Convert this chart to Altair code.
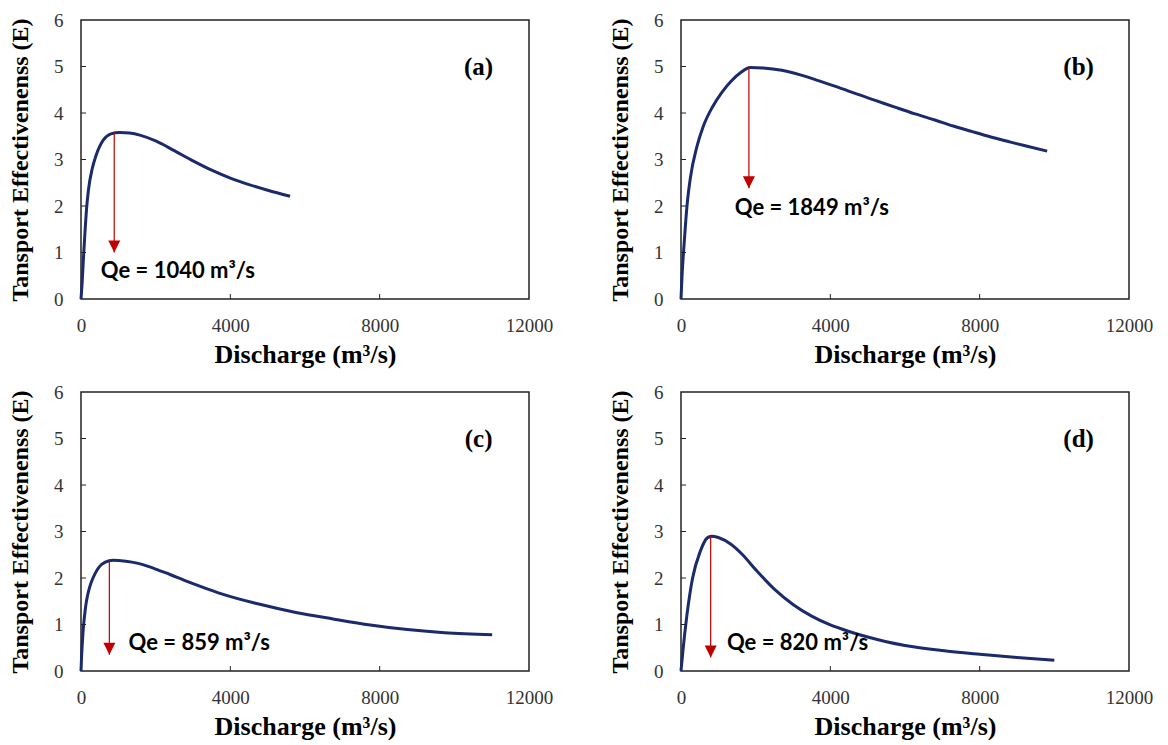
import altair as alt
import pandas as pd

# ---------------- data ----------------
Q_A = [0, 30, 60, 100, 150, 200, 300, 400, 500, 600, 800, 1040, 1300, 1600, 2000, 2500, 3000, 3500, 4000, 4500, 5000, 5600]
E_A = [0, 0.35, 0.8, 1.35, 1.95, 2.35, 2.8, 3.08, 3.28, 3.42, 3.55, 3.58, 3.57, 3.52, 3.40, 3.19, 2.97, 2.77, 2.60, 2.46, 2.34, 2.21]

Q_B = [0, 25, 67, 120, 168, 250, 424, 600, 835, 1100, 1347, 1600, 1849, 2200, 2700, 3195, 3700, 4219, 4700, 5245, 5750, 6271, 6800, 7296, 7800, 8322, 8800, 9300, 9808]
E_B = [0, 0.45, 1.0, 1.6, 2.06, 2.6, 3.27, 3.72, 4.12, 4.45, 4.69, 4.87, 4.98, 4.97, 4.92, 4.82, 4.69, 4.55, 4.41, 4.26, 4.12, 3.98, 3.85, 3.72, 3.60, 3.48, 3.38, 3.28, 3.18]

Q_C = [0, 15, 32, 60, 90, 130, 180, 230, 280, 380, 478, 650, 859, 1200, 1500, 1800, 2100, 2400, 2770, 3200, 3765, 4761, 5757, 6752, 7748, 8743, 9740, 11014]
E_C = [0, 0.3, 0.55, 0.9, 1.15, 1.42, 1.64, 1.80, 1.92, 2.10, 2.23, 2.34, 2.38, 2.36, 2.32, 2.25, 2.16, 2.07, 1.95, 1.82, 1.66, 1.44, 1.26, 1.12, 0.99, 0.89, 0.82, 0.78]

Q_D = [0, 53, 155, 308, 515, 700, 820, 1000, 1347, 1650, 2000, 2500, 3000, 3500, 4000, 4500, 5000, 5500, 6000, 7000, 8000, 9000, 10000]
E_D = [0, 0.45, 1.18, 1.99, 2.57, 2.86, 2.90, 2.87, 2.72, 2.50, 2.18, 1.76, 1.43, 1.18, 0.99, 0.85, 0.73, 0.63, 0.55, 0.44, 0.36, 0.29, 0.23]

Q_SERIES = [Q_A, Q_B, Q_C, Q_D]
E_SERIES = [E_A, E_B, E_C, E_D]

PANEL_LABELS = ["(a)", "(b)", "(c)", "(d)"]
QE_TEXTS = ["Qe = 1040 m\u00b3/s", "Qe = 1849 m\u00b3/s", "Qe = 859 m\u00b3/s", "Qe = 820 m\u00b3/s"]
ARROW_Q = [890, 1819, 760, 795]
ARROW_TOP = [3.58, 4.98, 2.38, 2.90]
ARROW_TIP = [1.0, 2.38, 0.35, 0.29]
TEXT_Q = [530, 1440, 1275, 1230]
TEXT_E = [0.6, 1.95, 0.6, 0.6]
LABEL_Q = [10650, 10650, 10650, 10650]
LABEL_E = [5.0, 5.0, 5.0, 5.0]

X_TICKS = [0, 4000, 8000, 12000]
Y_TICKS = [0, 1, 2, 3, 4, 5, 6]
X_INNER = [4000, 8000]
Y_INNER = [1, 2, 3, 4, 5]

NAVY = "#1b2a6b"
RED = "#c00000"
W, H = 448, 279

XS = alt.Scale(domain=[0, 12000], nice=False, zero=False)
YS = alt.Scale(domain=[0, 6], nice=False, zero=False)
XA = alt.Axis(values=X_TICKS, format="d", title="Discharge (m\u00b3/s)", grid=False, ticks=False, domain=False,
              labelFlush=False, labelOverlap=False, labelPadding=17, titlePadding=6, titleFontSize=26)
YA = alt.Axis(values=Y_TICKS, format="d", title="Tansport Effectivenenss (E)", grid=False, ticks=False, domain=False,
              labelFlush=False, labelOverlap=False, labelPadding=18, titlePadding=21, titleFontSize=24)


def X(f):
    return alt.X(f, type="quantitative", scale=XS, axis=XA)


def Y(f):
    return alt.Y(f, type="quantitative", scale=YS, axis=YA)


def panel(i):
    df = pd.DataFrame({"Q": Q_SERIES[i], "E": E_SERIES[i]})
    line = alt.Chart(df).mark_line(color=NAVY, strokeWidth=3, interpolate="monotone").encode(x=X("Q"), y=Y("E"))
    ann = pd.DataFrame({"Q": [ARROW_Q[i]], "E": [ARROW_TOP[i]], "E2": [ARROW_TIP[i]]})
    rule = alt.Chart(ann).mark_rule(color=RED, strokeWidth=1.2).encode(x=X("Q"), y=Y("E"), y2=alt.Y2("E2"))
    head = alt.Chart(ann).mark_point(shape="M-1,-1L1,-1L0,1Z", filled=True, size=144, color=RED,
                                     opacity=1, yOffset=-6).encode(x=X("Q"), y=Y("E2"))
    txt = pd.DataFrame({"Q": [TEXT_Q[i]], "E": [TEXT_E[i]], "t": [QE_TEXTS[i]]})
    qe = alt.Chart(txt).mark_text(align="left", baseline="middle", font="Lato", fontWeight="bold",
                                  fontSize=22, color="black").encode(x=X("Q"), y=Y("E"), text="t:N")
    lab = pd.DataFrame({"Q": [LABEL_Q[i]], "E": [LABEL_E[i]], "t": [PANEL_LABELS[i]]})
    lbl = alt.Chart(lab).mark_text(align="center", baseline="middle", font="Liberation Serif",
                                   fontWeight="bold", fontSize=25, color="black").encode(
        x=X("Q"), y=Y("E"), text="t:N")
    xt = alt.Chart(pd.DataFrame({"Q": X_INNER})).mark_rule(color="#222", strokeWidth=1).encode(
        x=X("Q"), y=alt.value(H), y2=alt.value(H - 5))
    yt = alt.Chart(pd.DataFrame({"E": Y_INNER})).mark_rule(color="#222", strokeWidth=1).encode(
        y=Y("E"), x=alt.value(0), x2=alt.value(5))
    return alt.layer(line, xt, yt, rule, head, qe, lbl).properties(width=W, height=H)


top = alt.hconcat(panel(0), panel(1), spacing=53)
bottom = alt.hconcat(panel(2), panel(3), spacing=53)
chart = alt.vconcat(top, bottom, spacing=14).properties(
    padding={"left": 7, "top": 10, "right": 5, "bottom": 0}, background="white"
).configure_view(stroke="#222", strokeWidth=1.5).configure_axis(
    labelFont="Liberation Serif", labelFontSize=19, labelColor="#333",
    titleFont="Liberation Serif", titleFontWeight="bold", titleColor="black"
)

chart.save("out.html", embed_options={"renderer": "svg", "actions": False})
